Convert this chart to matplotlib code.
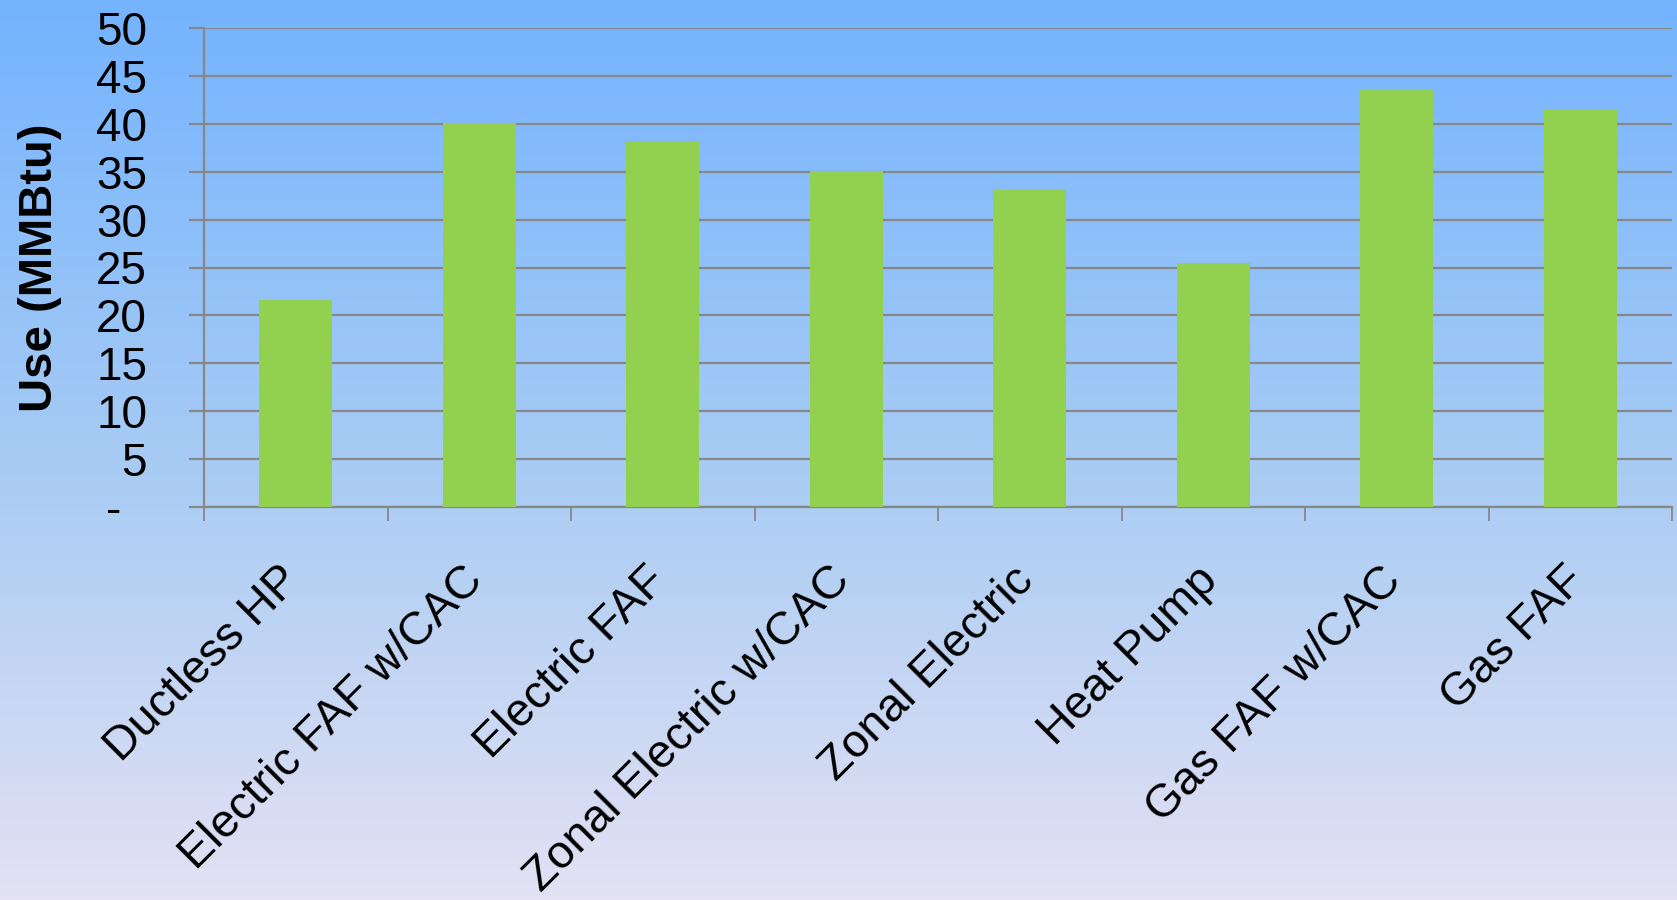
import numpy as np
import matplotlib.pyplot as plt
from matplotlib.colors import LinearSegmentedColormap
from matplotlib.transforms import ScaledTranslation

# data
categories = ["Ductless HP", "Electric FAF w/CAC", "Electric FAF",
              "Zonal Electric w/CAC", "Zonal Electric", "Heat Pump",
              "Gas FAF w/CAC", "Gas FAF"]
use_mmbtu = [21.6, 40.1, 38.2, 35.1, 33.1, 25.5, 43.5, 41.5]
yticks = [0, 5, 10, 15, 20, 25, 30, 35, 40, 45, 50]
ytick_labels = ["-  "] + [str(v) for v in yticks[1:]]

plt.rcParams['font.family'] = ['Liberation Sans', 'DejaVu Sans']

fig = plt.figure(figsize=(16.77, 9), dpi=100)

# background gradient
bg = fig.add_axes([0, 0, 1, 1], zorder=0)
cmap = LinearSegmentedColormap.from_list(
    "bg", [(0.0, "#74b3ff"), (0.55, "#abcdf3"), (1.0, "#e4e1f4")])
grad = np.linspace(0, 1, 256).reshape(-1, 1)
bg.imshow(grad, aspect="auto", cmap=cmap, extent=[0, 1, 0, 1], origin="upper")
bg.axis("off")

ax = fig.add_axes([204/1677, 1-507/900, 1 - 204/1677 - 5/1677, (507-28)/900], zorder=1)
ax.patch.set_alpha(0)

x = np.arange(len(categories))
ax.bar(x, use_mmbtu, width=0.4, color="#92d050", zorder=3)

grid_c = "#878787"
ax.set_ylim(0, 50)
ax.set_xlim(-0.5, len(categories) - 0.5)
ax.set_yticks(yticks)
ax.set_yticklabels(ytick_labels, fontsize=33)
ax.yaxis.grid(True, color=grid_c, linewidth=1.6, zorder=1)
ax.set_axisbelow(True)

ax.set_xticks(x)
ax.set_xticklabels(categories, fontsize=33.5, rotation=45, ha="right",
                   va="top", rotation_mode="anchor")
ax.set_xticks(np.arange(len(categories) + 1) - 0.5, minor=True)
ax.tick_params(axis="x", which="major", length=0, pad=37)
ax.tick_params(axis="x", which="minor", length=10, width=1.3, color=grid_c)
ax.tick_params(axis="y", length=11, width=1.6, color=grid_c, pad=30)

shift = ScaledTranslation(-0.18, 0, fig.dpi_scale_trans)
for lbl in ax.get_xticklabels():
    lbl.set_transform(lbl.get_transform() + shift)

for s in ["top", "right"]:
    ax.spines[s].set_visible(False)
for s in ["left", "bottom"]:
    ax.spines[s].set_color(grid_c)
    ax.spines[s].set_linewidth(1.6)
ax.spines["left"].set_bounds(0, 50)

ax.set_ylabel("Use (MMBtu)", fontsize=34, fontweight="bold")
ax.yaxis.set_label_coords(-0.097, 0.5)

fig.savefig("out.png", dpi=100)
